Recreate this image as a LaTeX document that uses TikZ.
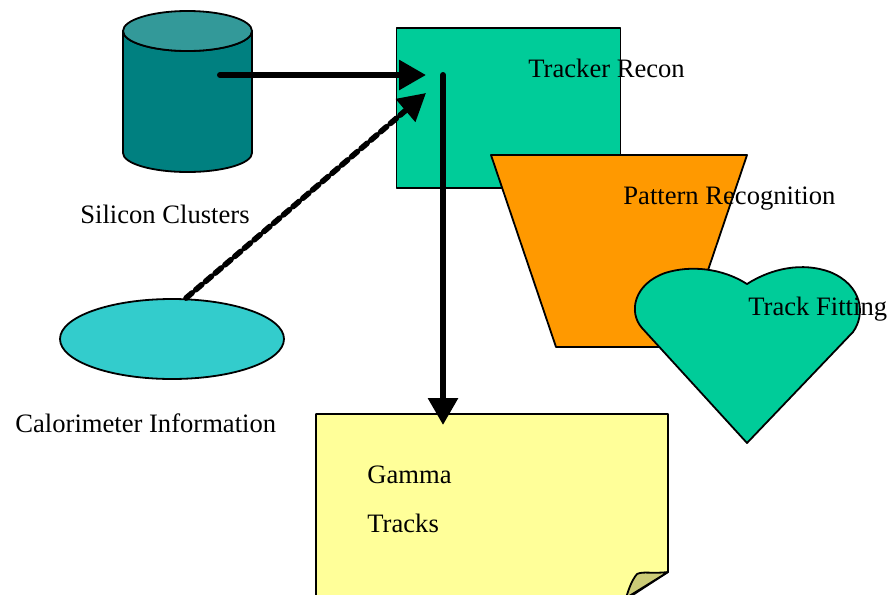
\documentclass[tikz,border=0pt]{standalone}
\usepackage{fontspec}
\setmainfont{Liberation Serif}
\usetikzlibrary{arrows.meta,shapes.geometric}
\definecolor{cyltop}{HTML}{339999}
\definecolor{cylbody}{HTML}{008080}
\definecolor{seagreen}{HTML}{00CC99}
\definecolor{orangefill}{HTML}{FF9900}
\definecolor{aqua}{HTML}{33CCCC}
\definecolor{notefill}{HTML}{FFFF99}
\definecolor{foldfill}{HTML}{CCCC77}
\tikzset{
  shape line/.style={draw=black, line width=0.9pt, line join=round},
  label text/.style={inner sep=0pt, anchor=base west, font=\fontsize{13.3}{16}\selectfont},
  flow/.style={line width=3pt, line cap=round, -{Triangle[length=13.5pt,width=14.5pt]}},
  dashflow/.style={line width=2.8pt, line cap=round, dash pattern=on 4pt off 2.4pt,
    -{Triangle[length=13.5pt,width=14.5pt]}},
}
\begin{document}
\begin{tikzpicture}[x=0.5pt,y=-0.5pt]
\fill[white] (0,0) rectangle (888,594);
\useasboundingbox (0,0) rectangle (888,594);
\clip (0,0) rectangle (888,594);

% silicon cluster store (cylinder)
\path[shape line, fill=cylbody] (123,31) -- (123,153) arc[start angle=180,end angle=0,x radius=64.5,y radius=19]
  -- (252,31) arc[start angle=0,end angle=180,x radius=64.5,y radius=20] -- cycle;
\path[shape line, fill=cyltop] (187.5,31) ellipse[x radius=64.5,y radius=20];
\coordinate (clusterout) at (220,75);

% tracker recon box
\node[shape line, fill=seagreen, minimum width=112pt, minimum height=80pt, inner sep=0pt, anchor=north west]
  (recon) at (395.5,27) {};

% pattern recognition trapezoid
\path[shape line, fill=orangefill] (491,155) -- (747,155) -- (682,347) -- (556,347) -- cycle;

% track fitting heart
\path[shape line, fill=seagreen] (747,443) -- (642,328)
  .. controls (628,312) and (634,284) .. (665,273)
  .. controls (690,265) and (722,268) .. (747,284)
  .. controls (772,268) and (803,262) .. (830,272)
  .. controls (862,285) and (866,314) .. (853,332) -- cycle;

% calorimeter ellipse
\node[shape line, fill=aqua, ellipse, minimum width=112pt, minimum height=40pt, inner sep=0pt]
  (calo) at (172,339) {};

% output note with folded corner
\path[shape line, fill=notefill] (316,600) -- (316,414) -- (668,414) -- (668,572) -- (625,600) -- cycle;
\path[shape line, fill=foldfill] (668,572) .. controls (652,574) and (643,571) .. (637,574)
  .. controls (632,580) and (629,588) .. (626,598) -- cycle;
\coordinate (noteIn) at (443,425);

% labels
\node[label text] (lrecon) at (528,77) {Tracker Recon};
\node[label text] (lpat) at (623,204) {Pattern Recognition};
\node[label text] (lfit) at (748,315) {Track Fitting};
\node[label text] (lsil) at (80,223) {Silicon Clusters};
\node[label text] (lcal) at (15,432) {Calorimeter Information};
\node[label text] (lgam) at (367,483) {Gamma};
\node[label text] (ltrk) at (367,532) {Tracks};

% connectors
\coordinate (reconIn) at (426,75);
\coordinate (reconIn2) at (426,93);
\coordinate (reconOut) at (443,75);
\draw[flow] (clusterout) -- (reconIn);
\draw[dashflow] (calo.north) ++(14,0) -- (reconIn2);
\draw[flow] (reconOut) -- (noteIn);
\end{tikzpicture}
\end{document}
